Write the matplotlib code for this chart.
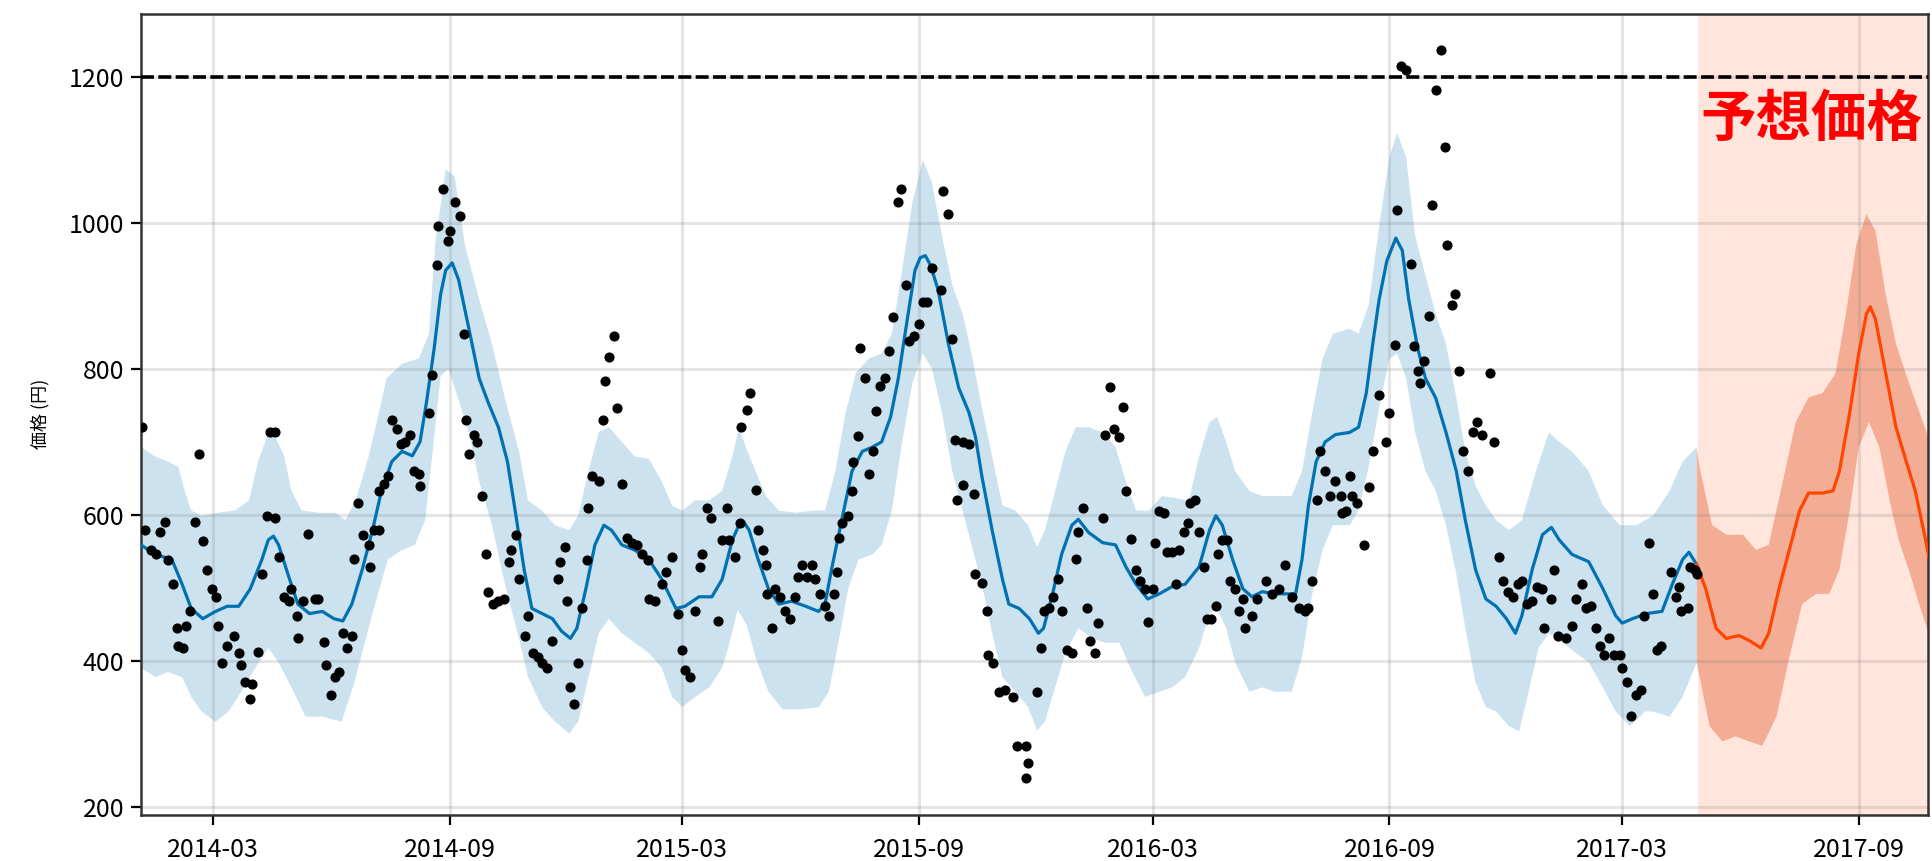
import matplotlib
matplotlib.use("Agg")
import matplotlib.pyplot as plt
import matplotlib.dates as mdates
import matplotlib.transforms as mtransforms
import numpy as np

plt.rcParams["font.family"] = ["Noto Sans CJK JP", "DejaVu Sans"]

# all days are counted from this date
START = "2014-01-01"

# observed prices (day, yen)
obs = [
    (4, 721), (6, 579), (11, 552), (15, 546), (18, 576), (22, 591), (24, 538), (28, 505),
    (31, 445), (32, 421), (36, 418), (38, 448), (41, 468), (45, 591), (48, 683), (51, 564),
    (54, 525), (58, 499), (61, 488), (63, 448), (66, 398), (70, 421), (75, 435), (79, 411),
    (81, 395), (84, 371), (88, 348), (89, 368), (94, 413), (97, 519), (101, 599), (103, 713),
    (107, 713), (107, 596), (110, 542), (114, 488), (118, 482), (120, 499), (124, 462), (125, 432),
    (129, 482), (133, 574), (138, 485), (141, 485), (145, 426), (147, 395), (151, 354), (154, 378),
    (157, 385), (160, 438), (163, 418), (167, 435), (169, 540), (172, 616), (176, 573), (180, 559),
    (181, 529), (184, 579), (188, 579), (188, 633), (192, 643), (195, 653), (198, 730), (202, 717),
    (205, 697), (208, 700), (212, 710), (215, 660), (219, 656), (220, 640), (227, 740), (229, 791),
    (233, 942), (234, 996), (238, 1046), (242, 975), (243, 989), (247, 1029), (251, 1009), (254, 848),
    (256, 730), (258, 683), (262, 710), (264, 700), (268, 626), (271, 546), (273, 495), (277, 478),
    (281, 482), (285, 485), (289, 536), (291, 552), (295, 573), (297, 512), (302, 435), (304, 462),
    (308, 411), (312, 405), (315, 398), (319, 391), (323, 428), (327, 512), (329, 536), (333, 556),
    (334, 482), (337, 364), (340, 341), (343, 397), (346, 472), (350, 539), (351, 609), (354, 653),
    (359, 646), (362, 730), (364, 784), (367, 816), (371, 845), (373, 747), (377, 643), (381, 569),
    (385, 562), (389, 559), (393, 546), (397, 539), (398, 485), (403, 482), (408, 505), (411, 522),
    (416, 542), (421, 465), (424, 415), (426, 388), (430, 378), (434, 468), (438, 529), (439, 546),
    (443, 609), (446, 596), (452, 455), (455, 566), (459, 609), (460, 566), (465, 542), (469, 589),
    (470, 720), (474, 744), (477, 767), (481, 634), (483, 579), (487, 552), (489, 532), (490, 492),
    (494, 445), (496, 499), (500, 488), (504, 468), (508, 458), (512, 488), (514, 515), (517, 532),
    (521, 515), (525, 532), (527, 512), (531, 492), (535, 475), (538, 462), (542, 492), (544, 522),
    (546, 569), (548, 589), (553, 599), (556, 633), (557, 673), (561, 708), (562, 828), (566, 787),
    (569, 656), (572, 687), (575, 742), (578, 777), (582, 787), (585, 824), (588, 871), (592, 1029),
    (594, 1046), (598, 915), (600, 838), (604, 845), (608, 861), (611, 891), (614, 891), (618, 938),
    (625, 908), (627, 1043), (631, 1012), (634, 841), (636, 703), (638, 620), (642, 700), (642, 641),
    (647, 697), (651, 629), (652, 519), (657, 507), (661, 468), (662, 408), (666, 398), (670, 358),
    (675, 361), (681, 351), (684, 284), (691, 284), (691, 240), (693, 260), (700, 358), (703, 418),
    (705, 468), (709, 472), (712, 488), (716, 512), (719, 468), (723, 415), (727, 411), (730, 540),
    (732, 576), (736, 609), (739, 472), (741, 428), (745, 411), (747, 452), (751, 596), (753, 710),
    (757, 775), (760, 717), (764, 707), (767, 748), (769, 633), (773, 567), (777, 525), (780, 509),
    (784, 499), (786, 453), (790, 499), (792, 562), (795, 606), (799, 603), (801, 549), (805, 549),
    (808, 505), (810, 552), (814, 576), (817, 589), (819, 616), (823, 620), (826, 576), (830, 529),
    (832, 458), (835, 458), (839, 475), (841, 547), (844, 566), (848, 566), (850, 509), (854, 499),
    (857, 468), (860, 485), (862, 445), (867, 462), (871, 485), (878, 509), (883, 492), (888, 499),
    (893, 532), (898, 488), (904, 472), (908, 468), (911, 472), (914, 509), (918, 620), (920, 687),
    (924, 660), (928, 626), (932, 646), (936, 626), (937, 603), (940, 606), (943, 653), (945, 626),
    (949, 616), (954, 559), (958, 638), (961, 687), (966, 764), (971, 700), (974, 740), (978, 833),
    (980, 1017), (983, 1214), (987, 1209), (991, 943), (993, 831), (996, 797), (998, 781), (1001, 811),
    (1005, 873), (1007, 1024), (1010, 1182), (1014, 1236), (1017, 1104), (1019, 970), (1023, 887), (1025, 902),
    (1028, 797), (1031, 687), (1035, 660), (1039, 714), (1042, 727), (1046, 710), (1052, 794), (1055, 700),
    (1059, 542), (1062, 509), (1066, 495), (1070, 488), (1074, 505), (1077, 509), (1081, 478), (1085, 482),
    (1089, 502), (1093, 499), (1094, 445), (1100, 485), (1102, 525), (1105, 435), (1111, 431), (1116, 448),
    (1119, 485), (1124, 505), (1127, 472), (1131, 475), (1135, 445), (1138, 421), (1141, 408), (1145, 431),
    (1149, 408), (1153, 408), (1155, 391), (1159, 371), (1162, 325), (1166, 354), (1170, 361), (1172, 462),
    (1176, 562), (1179, 492), (1182, 415), (1185, 421), (1193, 522), (1197, 488), (1199, 502), (1201, 468),
    (1206, 472), (1208, 529), (1212, 525), (1213, 519),
]

# fitted price
fit = [
    (3, 559), (14, 546), (27, 539), (35, 505), (42, 472), (51, 458), (61, 468), (70, 475),
    (79, 475), (88, 499), (97, 539), (102, 566), (106, 571), (110, 559), (118, 515), (125, 478),
    (134, 465), (144, 468), (153, 458), (160, 455), (167, 478), (175, 525), (183, 579), (190, 633),
    (198, 673), (206, 687), (214, 681), (220, 700), (225, 754), (231, 828), (236, 902), (240, 935),
    (245, 945), (250, 922), (258, 855), (266, 787), (273, 754), (281, 720), (288, 673), (294, 606),
    (301, 525), (307, 472), (315, 465), (323, 458), (330, 441), (337, 431), (342, 445), (349, 499),
    (356, 559), (363, 586), (369, 579), (377, 559), (387, 552), (398, 539), (408, 512), (419, 472),
    (426, 475), (437, 488), (447, 488), (455, 512), (463, 566), (468, 586), (472, 590), (476, 579),
    (483, 539), (491, 499), (499, 478), (509, 482), (520, 475), (530, 468), (535, 478), (540, 525),
    (548, 593), (556, 660), (564, 687), (572, 693), (579, 700), (586, 734), (592, 787), (599, 868),
    (605, 935), (609, 952), (613, 955), (617, 942), (623, 908), (631, 834), (639, 774), (647, 740),
    (652, 707), (657, 653), (665, 579), (673, 512), (678, 478), (686, 472), (694, 458), (701, 438),
    (705, 445), (712, 492), (719, 546), (727, 586), (732, 594), (740, 576), (751, 562), (761, 559),
    (769, 529), (777, 505), (786, 485), (795, 492), (805, 502), (815, 505), (826, 529), (834, 579),
    (839, 599), (844, 586), (852, 539), (860, 499), (867, 488), (875, 495), (885, 492), (896, 492),
    (901, 492), (906, 539), (911, 613), (917, 673), (924, 700), (932, 710), (943, 713), (950, 720),
    (956, 767), (961, 834), (966, 895), (972, 948), (979, 979), (984, 962), (989, 895), (996, 828),
    (1002, 787), (1010, 760), (1018, 713), (1026, 660), (1033, 593), (1041, 525), (1049, 485), (1057, 475),
    (1065, 458), (1072, 438), (1077, 462), (1085, 525), (1093, 573), (1100, 583), (1106, 566), (1116, 546),
    (1129, 536), (1140, 499), (1150, 462), (1155, 452), (1163, 458), (1174, 465), (1186, 468), (1194, 505),
    (1202, 539), (1207, 549), (1213, 532),
]

fit_upper = [
    (3, 693), (14, 680), (24, 673), (32, 666), (37, 633), (42, 606), (50, 599), (63, 603),
    (76, 606), (87, 620), (94, 673), (101, 707), (107, 707), (114, 683), (120, 633), (128, 606),
    (141, 603), (154, 603), (162, 593), (170, 620), (180, 680), (188, 740), (194, 787), (206, 807),
    (219, 814), (227, 848), (232, 975), (240, 1073), (247, 1063), (255, 969), (266, 895), (276, 834),
    (286, 760), (297, 687), (304, 620), (315, 606), (325, 586), (336, 579), (343, 599), (351, 660),
    (359, 713), (367, 720), (377, 700), (387, 680), (398, 677), (408, 646), (416, 613), (424, 606),
    (434, 620), (445, 620), (455, 633), (463, 680), (468, 720), (474, 690), (481, 660), (489, 626),
    (499, 606), (512, 603), (525, 606), (535, 606), (543, 660), (551, 740), (559, 794), (569, 814),
    (579, 821), (587, 848), (595, 935), (603, 1029), (611, 1086), (618, 1056), (626, 982), (634, 915),
    (642, 875), (649, 821), (657, 747), (665, 680), (673, 613), (683, 606), (693, 586), (700, 556),
    (706, 579), (714, 633), (722, 687), (730, 720), (740, 720), (751, 713), (761, 693), (769, 646),
    (777, 606), (787, 606), (797, 626), (808, 623), (818, 620), (826, 680), (834, 727), (840, 734),
    (847, 700), (854, 660), (865, 633), (875, 626), (885, 626), (898, 626), (906, 660), (914, 740),
    (922, 814), (930, 848), (943, 855), (950, 848), (958, 888), (966, 996), (974, 1090), (980, 1123),
    (987, 1090), (994, 982), (1002, 928), (1010, 875), (1018, 834), (1026, 761), (1033, 687), (1041, 640),
    (1049, 613), (1057, 593), (1067, 579), (1077, 593), (1088, 660), (1098, 713), (1106, 700), (1116, 687),
    (1129, 660), (1140, 613), (1153, 586), (1166, 586), (1179, 599), (1192, 633), (1202, 673), (1213, 693),
]

fit_lower = [
    (3, 391), (14, 378), (24, 385), (35, 378), (42, 351), (50, 331), (61, 317), (71, 331),
    (81, 358), (92, 391), (102, 418), (110, 398), (120, 364), (131, 324), (144, 324), (159, 317),
    (169, 371), (177, 425), (185, 478), (195, 539), (206, 552), (216, 559), (224, 593), (230, 690),
    (236, 790), (242, 800), (247, 774), (258, 713), (266, 646), (276, 586), (286, 505), (297, 431),
    (304, 378), (315, 337), (325, 317), (336, 301), (343, 317), (351, 378), (359, 438), (367, 458),
    (377, 438), (387, 425), (398, 411), (408, 391), (416, 351), (424, 337), (434, 351), (445, 364),
    (455, 391), (460, 420), (467, 470), (474, 450), (481, 405), (491, 358), (502, 334), (517, 334),
    (530, 337), (538, 358), (546, 431), (553, 499), (561, 539), (572, 546), (579, 559), (587, 606),
    (595, 700), (603, 781), (611, 821), (618, 801), (626, 740), (634, 660), (642, 606), (649, 559),
    (657, 505), (665, 438), (673, 378), (683, 358), (693, 337), (700, 305), (706, 317), (714, 364),
    (722, 411), (732, 445), (743, 431), (753, 425), (764, 425), (774, 385), (784, 351), (795, 358),
    (805, 364), (815, 378), (826, 418), (834, 465), (840, 472), (847, 445), (854, 398), (865, 358),
    (875, 364), (885, 358), (898, 358), (906, 405), (914, 492), (922, 552), (930, 586), (943, 586),
    (950, 606), (958, 667), (966, 747), (974, 814), (980, 821), (987, 787), (994, 713), (1002, 660),
    (1010, 633), (1018, 586), (1026, 519), (1033, 445), (1041, 371), (1049, 337), (1057, 331), (1067, 311),
    (1075, 304), (1083, 364), (1090, 418), (1098, 438), (1109, 425), (1119, 411), (1129, 398), (1140, 364),
    (1150, 331), (1161, 311), (1173, 331), (1179, 331), (1192, 324), (1202, 351), (1213, 398),
]

# forecast part
fc = [
    (1213, 532), (1220, 499), (1228, 445), (1236, 431), (1246, 435), (1254, 428), (1263, 418), (1269, 438),
    (1277, 499), (1285, 552), (1293, 606), (1300, 630), (1311, 630), (1319, 633), (1324, 660), (1332, 740),
    (1339, 821), (1345, 875), (1348, 885), (1352, 868), (1360, 794), (1368, 720), (1376, 673), (1383, 633),
    (1391, 566), (1397, 512),
]
fc_upper = [
    (1213, 693), (1215, 667), (1225, 586), (1236, 573), (1249, 573), (1259, 552), (1269, 559), (1280, 646),
    (1290, 727), (1300, 761), (1311, 767), (1321, 794), (1329, 875), (1337, 969), (1345, 1012), (1352, 989),
    (1360, 902), (1368, 834), (1378, 781), (1389, 727), (1397, 687),
]
fc_lower = [
    (1213, 398), (1223, 311), (1233, 290), (1243, 297), (1254, 290), (1264, 284), (1275, 324), (1285, 405),
    (1295, 478), (1306, 492), (1316, 492), (1324, 525), (1332, 606), (1339, 693), (1347, 727), (1355, 693),
    (1363, 620), (1370, 566), (1378, 525), (1386, 478), (1397, 418),
]

forecast_start = "2017-04-29"
target_price = 1200
x_range = ("2014-01-04", "2017-10-25")
y_range = (190, 1286)

base = mdates.datestr2num(START)


def xy(pairs):
    a = np.array(pairs, dtype=float)
    return base + a[:, 0], a[:, 1]


def band(ax, upper, lower, **kw):
    ux, uy = xy(upper)
    lx, ly = xy(lower)
    ax.fill(np.concatenate([ux, lx[::-1]]), np.concatenate([uy, ly[::-1]]), lw=0, **kw)


fig = plt.figure(figsize=(19.32, 8.61), dpi=100)
ax = fig.add_axes([0.073, 0.054, 0.925, 0.930])

x0, x1 = mdates.datestr2num(x_range[0]), mdates.datestr2num(x_range[1])
ax.axvspan(mdates.datestr2num(forecast_start), x1, color="lightsalmon", alpha=0.27, lw=0, zorder=0)

band(ax, fit_upper, fit_lower, color="#0072B2", alpha=0.2, zorder=1)
band(ax, fc_upper, fc_lower, color="#EC8F6E", alpha=0.65, zorder=1)

ax.plot(*xy(fit), color="#0072B2", lw=2.3, zorder=3)
ax.plot(*xy(fc), color="orangered", lw=2.3, zorder=3)
ax.plot(*xy(obs), "o", color="black", ms=6.3, zorder=4)

ax.axhline(target_price, color="black", lw=2.6, ls=(0, (3.6, 1.2)), zorder=5)

trans = mtransforms.blended_transform_factory(ax.transAxes, ax.transData)
ax.text(0.997, 1141, "予想価格", transform=trans, ha="right", va="center",
        color="red", fontsize=40, fontweight="bold", zorder=6)

ax.set_xlim(x0, x1)
ax.set_ylim(*y_range)
ax.set_yticks([200, 400, 600, 800, 1000, 1200])
ax.xaxis.set_major_locator(mdates.MonthLocator(bymonth=[3, 9]))
ax.xaxis.set_major_formatter(mdates.DateFormatter("%Y-%m"))

ax.grid(True, color="gray", alpha=0.2, lw=2.2)
ax.tick_params(labelsize=18, length=7, width=1.6, pad=5)
ax.tick_params(axis="x", pad=9)
for s in ax.spines.values():
    s.set_linewidth(1.8)
    s.set_color("#333333")
ax.set_ylabel("価格 (円)", fontsize=13, labelpad=14)

fig.savefig("out.png", dpi=100)
